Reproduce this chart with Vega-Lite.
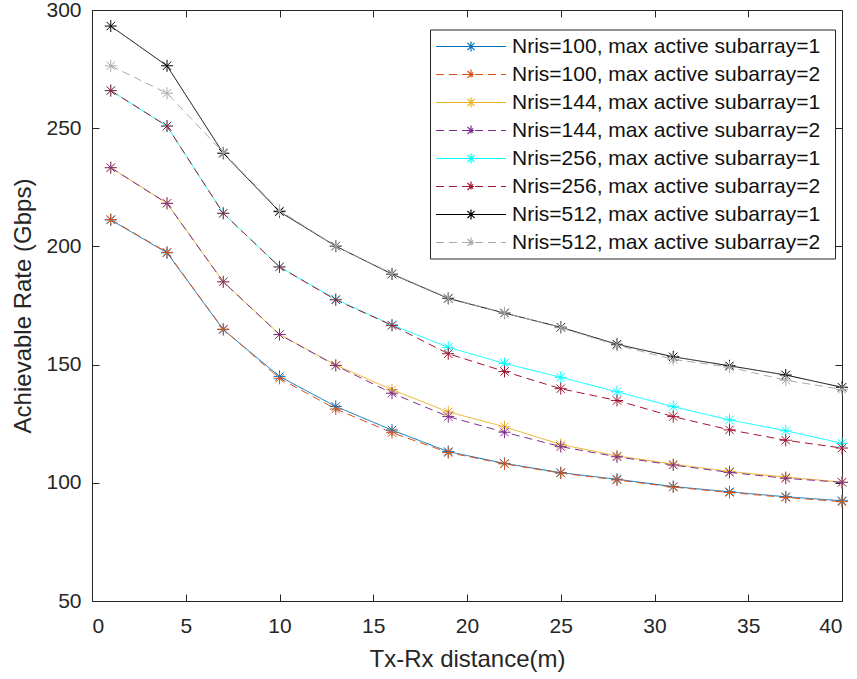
{
  "$schema": "https://vega.github.io/schema/vega-lite/v6.json",
  "autosize": {"type": "none"},
  "width": 750,
  "height": 591,
  "padding": {"left": 92, "top": 10, "right": 15, "bottom": 78},
  "background": "white",
  "config": {
    "view": {"stroke": "#262626", "strokeWidth": 1},
    "font": "Liberation Sans",
    "axis": {"grid": false, "domainColor": "#262626", "tickColor": "#262626", "labelColor": "#262626", "titleColor": "#262626", "labelFont": "Liberation Sans", "titleFont": "Liberation Sans", "labelFontSize": 21, "titleFontSize": 24, "titleFontWeight": "normal", "tickSize": -7, "tickWidth": 1}
  },
  "datasets": {
    "rates": [
      {"x":1,"v":211.2,"s":"Nris=100, max active subarray=1"},{"x":4,"v":197.3,"s":"Nris=100, max active subarray=1"},{"x":7,"v":164.8,"s":"Nris=100, max active subarray=1"},{"x":10,"v":145.0,"s":"Nris=100, max active subarray=1"},{"x":13,"v":132.3,"s":"Nris=100, max active subarray=1"},{"x":16,"v":122.3,"s":"Nris=100, max active subarray=1"},{"x":19,"v":113.2,"s":"Nris=100, max active subarray=1"},{"x":22,"v":108.2,"s":"Nris=100, max active subarray=1"},{"x":25,"v":104.3,"s":"Nris=100, max active subarray=1"},{"x":28,"v":101.5,"s":"Nris=100, max active subarray=1"},{"x":31,"v":98.4,"s":"Nris=100, max active subarray=1"},{"x":34,"v":96.2,"s":"Nris=100, max active subarray=1"},{"x":37,"v":94.1,"s":"Nris=100, max active subarray=1"},{"x":40,"v":92.4,"s":"Nris=100, max active subarray=1"},
      {"x":1,"v":211.4,"s":"Nris=100, max active subarray=2"},{"x":4,"v":197.5,"s":"Nris=100, max active subarray=2"},{"x":7,"v":165.0,"s":"Nris=100, max active subarray=2"},{"x":10,"v":144.2,"s":"Nris=100, max active subarray=2"},{"x":13,"v":131.2,"s":"Nris=100, max active subarray=2"},{"x":16,"v":121.2,"s":"Nris=100, max active subarray=2"},{"x":19,"v":112.8,"s":"Nris=100, max active subarray=2"},{"x":22,"v":108.0,"s":"Nris=100, max active subarray=2"},{"x":25,"v":104.1,"s":"Nris=100, max active subarray=2"},{"x":28,"v":101.2,"s":"Nris=100, max active subarray=2"},{"x":31,"v":98.2,"s":"Nris=100, max active subarray=2"},{"x":34,"v":95.9,"s":"Nris=100, max active subarray=2"},{"x":37,"v":93.8,"s":"Nris=100, max active subarray=2"},{"x":40,"v":92.0,"s":"Nris=100, max active subarray=2"},
      {"x":1,"v":233.3,"s":"Nris=144, max active subarray=1"},{"x":4,"v":218.3,"s":"Nris=144, max active subarray=1"},{"x":7,"v":185.1,"s":"Nris=144, max active subarray=1"},{"x":10,"v":162.8,"s":"Nris=144, max active subarray=1"},{"x":13,"v":149.8,"s":"Nris=144, max active subarray=1"},{"x":16,"v":139.4,"s":"Nris=144, max active subarray=1"},{"x":19,"v":130.0,"s":"Nris=144, max active subarray=1"},{"x":22,"v":123.7,"s":"Nris=144, max active subarray=1"},{"x":25,"v":116.2,"s":"Nris=144, max active subarray=1"},{"x":28,"v":111.4,"s":"Nris=144, max active subarray=1"},{"x":31,"v":107.9,"s":"Nris=144, max active subarray=1"},{"x":34,"v":104.8,"s":"Nris=144, max active subarray=1"},{"x":37,"v":102.4,"s":"Nris=144, max active subarray=1"},{"x":40,"v":100.3,"s":"Nris=144, max active subarray=1"},
      {"x":1,"v":233.3,"s":"Nris=144, max active subarray=2"},{"x":4,"v":218.2,"s":"Nris=144, max active subarray=2"},{"x":7,"v":185.0,"s":"Nris=144, max active subarray=2"},{"x":10,"v":162.7,"s":"Nris=144, max active subarray=2"},{"x":13,"v":149.6,"s":"Nris=144, max active subarray=2"},{"x":16,"v":137.9,"s":"Nris=144, max active subarray=2"},{"x":19,"v":128.0,"s":"Nris=144, max active subarray=2"},{"x":22,"v":121.4,"s":"Nris=144, max active subarray=2"},{"x":25,"v":115.3,"s":"Nris=144, max active subarray=2"},{"x":28,"v":111.0,"s":"Nris=144, max active subarray=2"},{"x":31,"v":107.5,"s":"Nris=144, max active subarray=2"},{"x":34,"v":104.4,"s":"Nris=144, max active subarray=2"},{"x":37,"v":101.9,"s":"Nris=144, max active subarray=2"},{"x":40,"v":100.2,"s":"Nris=144, max active subarray=2"},
      {"x":1,"v":265.9,"s":"Nris=256, max active subarray=1"},{"x":4,"v":250.9,"s":"Nris=256, max active subarray=1"},{"x":7,"v":214.0,"s":"Nris=256, max active subarray=1"},{"x":10,"v":191.4,"s":"Nris=256, max active subarray=1"},{"x":13,"v":177.6,"s":"Nris=256, max active subarray=1"},{"x":16,"v":166.8,"s":"Nris=256, max active subarray=1"},{"x":19,"v":157.3,"s":"Nris=256, max active subarray=1"},{"x":22,"v":150.5,"s":"Nris=256, max active subarray=1"},{"x":25,"v":144.6,"s":"Nris=256, max active subarray=1"},{"x":28,"v":138.5,"s":"Nris=256, max active subarray=1"},{"x":31,"v":132.2,"s":"Nris=256, max active subarray=1"},{"x":34,"v":126.6,"s":"Nris=256, max active subarray=1"},{"x":37,"v":122.0,"s":"Nris=256, max active subarray=1"},{"x":40,"v":116.7,"s":"Nris=256, max active subarray=1"},
      {"x":1,"v":265.9,"s":"Nris=256, max active subarray=2"},{"x":4,"v":250.9,"s":"Nris=256, max active subarray=2"},{"x":7,"v":214.0,"s":"Nris=256, max active subarray=2"},{"x":10,"v":191.3,"s":"Nris=256, max active subarray=2"},{"x":13,"v":177.4,"s":"Nris=256, max active subarray=2"},{"x":16,"v":166.6,"s":"Nris=256, max active subarray=2"},{"x":19,"v":154.6,"s":"Nris=256, max active subarray=2"},{"x":22,"v":147.1,"s":"Nris=256, max active subarray=2"},{"x":25,"v":139.8,"s":"Nris=256, max active subarray=2"},{"x":28,"v":134.8,"s":"Nris=256, max active subarray=2"},{"x":31,"v":128.0,"s":"Nris=256, max active subarray=2"},{"x":34,"v":122.4,"s":"Nris=256, max active subarray=2"},{"x":37,"v":118.0,"s":"Nris=256, max active subarray=2"},{"x":40,"v":114.7,"s":"Nris=256, max active subarray=2"},
      {"x":1,"v":293.2,"s":"Nris=512, max active subarray=1"},{"x":4,"v":276.4,"s":"Nris=512, max active subarray=1"},{"x":7,"v":239.4,"s":"Nris=512, max active subarray=1"},{"x":10,"v":214.7,"s":"Nris=512, max active subarray=1"},{"x":13,"v":200.1,"s":"Nris=512, max active subarray=1"},{"x":16,"v":188.3,"s":"Nris=512, max active subarray=1"},{"x":19,"v":178.0,"s":"Nris=512, max active subarray=1"},{"x":22,"v":171.8,"s":"Nris=512, max active subarray=1"},{"x":25,"v":165.8,"s":"Nris=512, max active subarray=1"},{"x":28,"v":158.6,"s":"Nris=512, max active subarray=1"},{"x":31,"v":153.3,"s":"Nris=512, max active subarray=1"},{"x":34,"v":149.5,"s":"Nris=512, max active subarray=1"},{"x":37,"v":145.6,"s":"Nris=512, max active subarray=1"},{"x":40,"v":140.4,"s":"Nris=512, max active subarray=1"},
      {"x":1,"v":276.4,"s":"Nris=512, max active subarray=2"},{"x":4,"v":264.8,"s":"Nris=512, max active subarray=2"},{"x":7,"v":239.8,"s":"Nris=512, max active subarray=2"},{"x":10,"v":215.2,"s":"Nris=512, max active subarray=2"},{"x":13,"v":200.2,"s":"Nris=512, max active subarray=2"},{"x":16,"v":188.5,"s":"Nris=512, max active subarray=2"},{"x":19,"v":178.2,"s":"Nris=512, max active subarray=2"},{"x":22,"v":171.9,"s":"Nris=512, max active subarray=2"},{"x":25,"v":165.6,"s":"Nris=512, max active subarray=2"},{"x":28,"v":158.2,"s":"Nris=512, max active subarray=2"},{"x":31,"v":152.2,"s":"Nris=512, max active subarray=2"},{"x":34,"v":148.9,"s":"Nris=512, max active subarray=2"},{"x":37,"v":143.4,"s":"Nris=512, max active subarray=2"},{"x":40,"v":139.5,"s":"Nris=512, max active subarray=2"}
    ]
  },
  "data": {"name": "rates"},
  "layer": [
    {
      "mark": {"type": "line", "strokeWidth": 1, "clip": true},
      "encoding": {
        "x": {"field": "x", "type": "quantitative", "scale": {"domain": [0, 40], "nice": false, "zero": false}, "axis": {"values": [0,5,10,15,20,25,30,35,40], "title": "Tx-Rx distance(m)", "labelPadding": 21, "titlePadding": 11}},
        "y": {"field": "v", "type": "quantitative", "scale": {"domain": [50, 300], "nice": false, "zero": false}, "axis": {"values": [50,100,150,200,250,300], "title": "Achievable Rate (Gbps)", "labelPadding": 18, "titlePadding": 10}},
        "color": {"field": "s", "type": "nominal", "scale": {"domain": ["Nris=100, max active subarray=1","Nris=100, max active subarray=2","Nris=144, max active subarray=1","Nris=144, max active subarray=2","Nris=256, max active subarray=1","Nris=256, max active subarray=2","Nris=512, max active subarray=1","Nris=512, max active subarray=2"], "range": ["#0072BD","#D95319","#EDB120","#7E2F8E","#00FFFF","#A2142F","#000000","#AAAAAA"]},
          "legend": {"title": " ", "titleOrient": "right", "titlePadding": 9, "titleFontSize": 11, "orient": "none", "legendX": 338, "legendY": 19.5, "strokeColor": "#262626", "fillColor": "white", "padding": 6, "labelFontSize": 21, "labelLimit": 500, "labelFont": "Liberation Sans", "labelColor": "#111111", "symbolType": "M-3.5,0L3.5,0M-0.5,0L0.5,0M0,-0.5L0,0.5M-0.35,-0.35L0.35,0.35M-0.35,0.35L0.35,-0.35", "symbolSize": 400, "symbolStrokeWidth": 1.2, "symbolOffset": 24, "labelOffset": 30, "rowPadding": 7.0, "offset": 0}},
        "strokeDash": {"field": "s", "type": "nominal", "scale": {"domain": ["Nris=100, max active subarray=1","Nris=100, max active subarray=2","Nris=144, max active subarray=1","Nris=144, max active subarray=2","Nris=256, max active subarray=1","Nris=256, max active subarray=2","Nris=512, max active subarray=1","Nris=512, max active subarray=2"], "range": [[1,0],[8,5],[1,0],[8,5],[1,0],[8,5],[1,0],[8,5]]}, "legend": null},
        "order": {"field": "x", "type": "quantitative"}
      }
    },
    {
      "mark": {"type": "point", "shape": "M-1,0L1,0M0,-1L0,1M-0.7,-0.7L0.7,0.7M-0.7,0.7L0.7,-0.7", "size": 144, "filled": false, "strokeWidth": 1, "opacity": 1},
      "encoding": {
        "x": {"field": "x", "type": "quantitative", "scale": {"domain": [0, 40], "nice": false, "zero": false}, "axis": {"orient": "top", "values": [0,5,10,15,20,25,30,35,40], "labels": false, "title": null, "domain": false}},
        "y": {"field": "v", "type": "quantitative", "scale": {"domain": [50, 300], "nice": false, "zero": false}, "axis": {"orient": "right", "values": [50,100,150,200,250,300], "labels": false, "title": null, "domain": false}},
        "color": {"field": "s", "type": "nominal", "legend": null}
      }
    }
  ],
  "resolve": {"scale": {"x": "independent", "y": "independent", "color": "shared"}, "axis": {"x": "independent", "y": "independent"}}
}
